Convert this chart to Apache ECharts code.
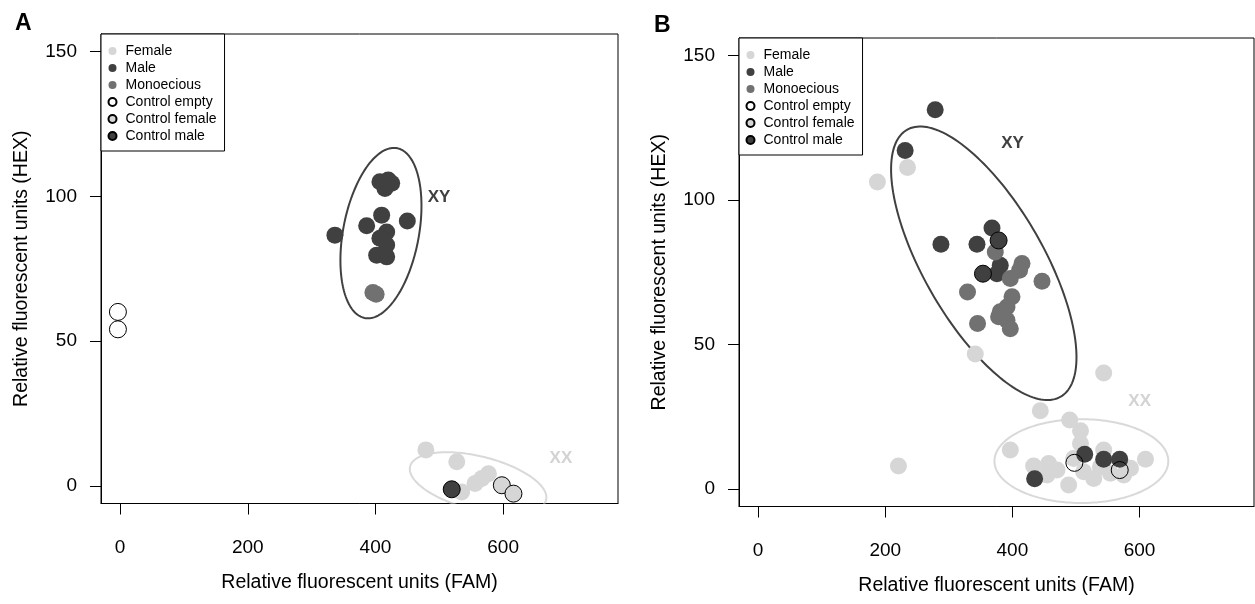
<!DOCTYPE html>
<html>
<head>
<meta charset="utf-8">
<script src="https://cdn.jsdelivr.net/npm/echarts@6/dist/echarts.min.js"></script>
<style>html,body{margin:0;padding:0;background:#fff}#c{width:1255px;height:604px}</style>
</head>
<body>
<div id="c"></div>
<script>
// ---------- data ----------
var seriesNames = ['Female', 'Male', 'Monoecious', 'Control empty', 'Control female', 'Control male'];
var xTicks = [0, 200, 400, 600];
var yTicks = [0, 50, 100, 150];

// Panel A  [FAM, HEX]
var aFemale = [[479, 12.5], [527.4, 8.4], [577, 4.3], [566.6, 2.6], [556, 0.9], [535, -2.0]];
var aMale = [[407, 105], [420, 105.6], [425.4, 104.5], [414.9, 102.7], [409.7, 93.5], [386.2, 89.8],
             [449.9, 91.5], [336.5, 86.6], [417.6, 87.7], [407, 85.5], [417.6, 83.2], [401.9, 79.7], [417.6, 79.1]];
var aMono = [[396, 66.8], [401, 66.2]];
var aCtrlEmpty = [[-3.5, 60.1], [-3.5, 54.1]];
var aCtrlFemale = [[598, 0.3], [616.2, -2.6]];
var aCtrlMale = [[519.5, -1.1]];

// Panel B  [FAM, HEX]
var bFemale = [[235.0, 111.2], [187.7, 106.2], [341.6, 46.7], [543.6, 40.2], [443.9, 27.1], [220.8, 8.0],
               [396.7, 13.5], [490.1, 23.9], [507.1, 20.2], [507.1, 15.8], [543.6, 13.5], [609.3, 10.3],
               [433.4, 8.0], [457.0, 8.9], [454.5, 4.9], [488.5, 1.4], [470.2, 6.6], [527.9, 3.7],
               [538.4, 7.7], [585.7, 7.2], [512.1, 6.0], [554.2, 5.5], [496.4, 10.6], [575.1, 4.9]];
var bMale = [[278.6, 131.2], [231.3, 117.1], [287.6, 84.7], [344.3, 84.7], [367.9, 90.3], [380.9, 77.4],
             [375.7, 74.5], [513.7, 12.1], [543.6, 10.3], [568.8, 10.3], [435.0, 3.6]];
var bMono = [[373.1, 82.0], [415.1, 78.0], [411.3, 75.7], [396.7, 72.8], [446.6, 71.9], [329.4, 68.2],
             [399.4, 66.5], [391.5, 63.0], [378.3, 59.6], [391.5, 58.4], [345.2, 57.3], [396.7, 55.5], [380.9, 61.3]];
var bCtrlEmpty = [[497.5, 9.1], [568.8, 6.6]];
var bCtrlFemale = [];
var bCtrlMale = [[378.3, 86.0], [353.7, 74.5]];

// Cluster ellipses: [centreX, centreY, uX, uY, vX, vY] (conjugate semi-axes, data units)
var aEllipseXY = [408.6, 87.3, 63.5, 9.38, 0, 27.86];
var aEllipseXX = [560.8, 1.0, 107, -4.91, 0, 9.5];
var bEllipseXY = [355.0, 78.1, 145.8, -32.46, 0, 34.4];
var bEllipseXX = [508.5, 9.7, 136.7, 0, 0, 14.5];

// Cluster labels [x, y, text]
var aLabels = [[499.6, 99.7, 'XY'], [690.6, 9.5, 'XX']];
var bLabels = [[400.2, 119.7, 'XY'], [600.2, 30.5, 'XX']];

// ---------- styles ----------
var FONT = '"Liberation Sans", Arial, Helvetica, sans-serif';
var colFemale = '#d6d6d6', colMale = '#404040', colMono = '#717171';
var styles = {
  'Female': {color: colFemale},
  'Male': {color: colMale},
  'Monoecious': {color: colMono},
  'Control empty': {color: 'rgba(0,0,0,0)', borderColor: '#000', borderWidth: 1},
  'Control female': {color: colFemale, borderColor: '#000', borderWidth: 1},
  'Control male': {color: colMale, borderColor: '#000', borderWidth: 1}
};

function ellipseSeries(idx, vals, color) {
  return {
    type: 'custom', xAxisIndex: idx, yAxisIndex: idx, clip: true, silent: true, z: 1,
    data: [vals],
    renderItem: function (params, api) {
      var cx = api.value(0), cy = api.value(1), ux = api.value(2), uy = api.value(3), vx = api.value(4), vy = api.value(5);
      var pts = [];
      for (var k = 0; k < 180; k++) {
        var t = 2 * Math.PI * k / 180;
        pts.push(api.coord([cx + ux * Math.cos(t) + vx * Math.sin(t), cy + uy * Math.cos(t) + vy * Math.sin(t)]));
      }
      return {type: 'polygon', shape: {points: pts}, style: {fill: 'none', stroke: color, lineWidth: 2}};
    }
  };
}
function labelSeries(idx, labels) {
  return {
    type: 'custom', xAxisIndex: idx, yAxisIndex: idx, silent: true, z: 5,
    data: labels.map(function (l) { return [l[0], l[1]]; }),
    renderItem: function (params, api) {
      var p = api.coord([api.value(0), api.value(1)]);
      var txt = labels[params.dataIndex][2];
      return {type: 'text', x: p[0], y: p[1],
        style: {text: txt, fill: txt === 'XY' ? '#404040' : '#d3d3d3', font: 'bold 17px ' + FONT, align: 'center', verticalAlign: 'middle'}};
    }
  };
}
function pointSeries(idx, name, data) {
  return {type: 'scatter', name: name, xAxisIndex: idx, yAxisIndex: idx, symbol: 'circle', symbolSize: 17,
    data: data, itemStyle: Object.assign({opacity: 1}, styles[name]), z: 3, emphasis: {disabled: true}};
}
function xAxis(idx) {
  return {type: 'value', gridIndex: idx, min: -30, max: 780,
    name: 'Relative fluorescent units (FAM)', nameLocation: 'middle', nameGap: 69,
    nameTextStyle: {fontFamily: FONT, fontSize: 19.5, color: '#000'},
    axisLine: {show: true, onZero: false, lineStyle: {color: '#000', width: 1}}, splitLine: {show: false},
    axisTick: {show: true, inside: false, length: 11, customValues: xTicks, lineStyle: {color: '#000', width: 1}},
    axisLabel: {customValues: xTicks, margin: 35, fontFamily: FONT, fontSize: 19, color: '#000'}};
}
function yAxis(idx) {
  return {type: 'value', gridIndex: idx, min: -6, max: 156,
    name: 'Relative fluorescent units (HEX)', nameLocation: 'middle', nameGap: 69,
    nameTextStyle: {fontFamily: FONT, fontSize: 19.5, color: '#000'},
    axisLine: {show: true, onZero: false, lineStyle: {color: '#000', width: 1}}, splitLine: {show: false},
    axisTick: {show: true, inside: false, length: 11, customValues: yTicks, lineStyle: {color: '#000', width: 1}},
    axisLabel: {customValues: yTicks, margin: 24, fontFamily: FONT, fontSize: 19, color: '#000'}};
}
function legend(left, top) {
  return {orient: 'vertical', left: left, top: top, data: seriesNames, selectedMode: false,
    icon: 'circle', itemWidth: 16, itemHeight: 8, itemGap: 3,
    padding: [10, 8, 8, 6.5], borderColor: '#000', borderWidth: 1, backgroundColor: '#fff',
    textStyle: {fontFamily: FONT, fontSize: 14, color: '#000', lineHeight: 14}};
}

var series = [
  ellipseSeries(0, aEllipseXY, '#404040'), ellipseSeries(0, aEllipseXX, '#d9d9d9'),
  ellipseSeries(1, bEllipseXY, '#404040'), ellipseSeries(1, bEllipseXX, '#d9d9d9'),
  pointSeries(0, 'Female', aFemale), pointSeries(0, 'Male', aMale), pointSeries(0, 'Monoecious', aMono),
  pointSeries(0, 'Control empty', aCtrlEmpty), pointSeries(0, 'Control female', aCtrlFemale), pointSeries(0, 'Control male', aCtrlMale),
  pointSeries(1, 'Female', bFemale), pointSeries(1, 'Male', bMale), pointSeries(1, 'Monoecious', bMono),
  pointSeries(1, 'Control empty', bCtrlEmpty), pointSeries(1, 'Control female', bCtrlFemale), pointSeries(1, 'Control male', bCtrlMale),
  labelSeries(0, aLabels), labelSeries(1, bLabels)
];

var chart = echarts.init(document.getElementById('c'), null, {renderer: 'canvas'});
chart.setOption({
  animation: false,
  backgroundColor: '#fff',
  title: [
    {text: 'A', left: 15, top: 12, padding: 0, textStyle: {fontFamily: FONT, fontSize: 23, fontWeight: 'bold', color: '#000'}},
    {text: 'B', left: 654, top: 14, padding: 0, textStyle: {fontFamily: FONT, fontSize: 23, fontWeight: 'bold', color: '#000'}}
  ],
  legend: [legend(101, 34), legend(739, 38)],
  grid: [
    {left: 101, top: 34, width: 517, height: 469.5, show: true, borderColor: '#000', borderWidth: 1, backgroundColor: 'transparent'},
    {left: 739, top: 38, width: 515, height: 468.5, show: true, borderColor: '#000', borderWidth: 1, backgroundColor: 'transparent'}
  ],
  xAxis: [xAxis(0), xAxis(1)],
  yAxis: [yAxis(0), yAxis(1)],
  series: series
});
</script>
</body>
</html>
